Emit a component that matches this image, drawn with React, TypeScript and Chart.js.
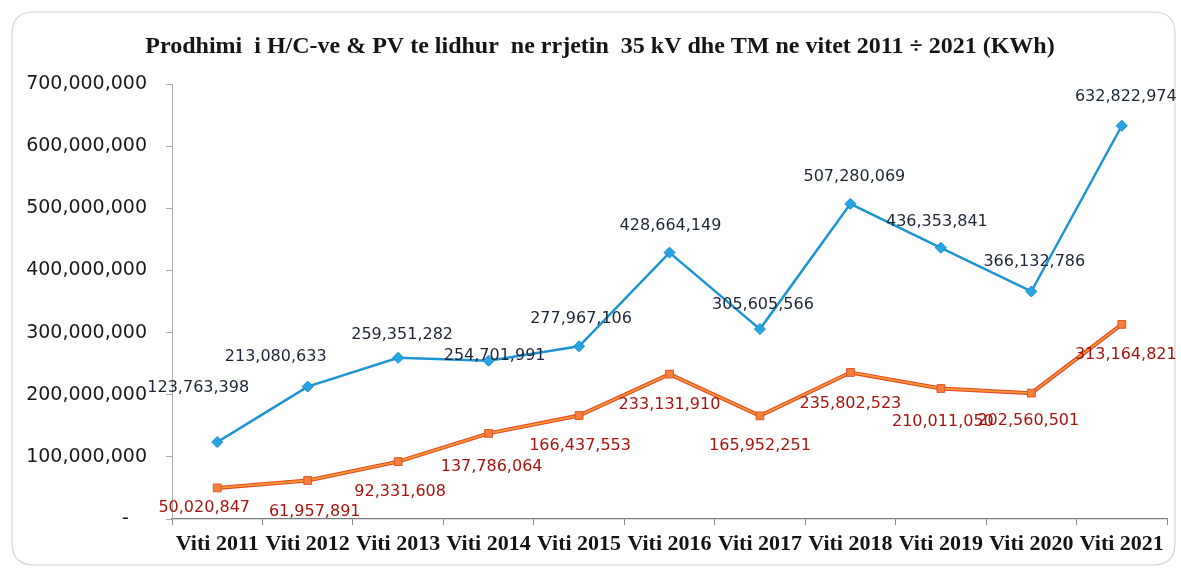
import React, { useEffect, useRef } from "react";
import { Chart, registerables } from "chart.js";

Chart.register(...registerables);

const chartTitle =
  "Prodhimi  i H/C-ve & PV te lidhur  ne rrjetin  35 kV dhe TM ne vitet 2011 ÷ 2021 (KWh)";

const categories = [
  "Viti 2011",
  "Viti 2012",
  "Viti 2013",
  "Viti 2014",
  "Viti 2015",
  "Viti 2016",
  "Viti 2017",
  "Viti 2018",
  "Viti 2019",
  "Viti 2020",
  "Viti 2021",
];

// Blue series
const productionTotal = [
  123763398, 213080633, 259351282, 254701991, 277967106, 428664149, 305605566,
  507280069, 436353841, 366132786, 632822974,
];

// Orange series
const productionConnected = [
  50020847, 61957891, 92331608, 137786064, 166437553, 233131910, 165952251,
  235802523, 210011050, 202560501, 313164821,
];

const yTickValues = [0, 100000000, 200000000, 300000000, 400000000, 500000000, 600000000, 700000000];

// label offsets (style, relative to each point)
const blueLabelOffsets: [number, number][] = [
  [-19, -54], [-32, -30], [4, -23], [6, -5], [2, -27], [1, -27],
  [3, -24], [4, -27], [-4, -26], [3, -30], [4, -29],
];
const orangeLabelOffsets: [number, number][] = [
  [-13, 20], [7, 31], [2, 30], [3, 33], [1, 30], [0, 31],
  [0, 30], [0, 31], [2, 33], [-3, 28], [4, 30],
];

const W = 1181;
const H = 571;

const fmt = (v: number) => v.toLocaleString("en-US");

const framePlugin = {
  id: "frame",
  beforeDraw(chart: any) {
    const ctx = chart.ctx;
    ctx.save();
    ctx.fillStyle = "#ffffff";
    ctx.fillRect(0, 0, chart.width, chart.height);
    const x = 12, y = 12, w = 1163, h = 553, r = 22;
    ctx.beginPath();
    ctx.moveTo(x + r, y);
    ctx.lineTo(x + w - r, y);
    ctx.quadraticCurveTo(x + w, y, x + w, y + r);
    ctx.lineTo(x + w, y + h - r);
    ctx.quadraticCurveTo(x + w, y + h, x + w - r, y + h);
    ctx.lineTo(x + r, y + h);
    ctx.quadraticCurveTo(x, y + h, x, y + h - r);
    ctx.lineTo(x, y + r);
    ctx.quadraticCurveTo(x, y, x + r, y);
    ctx.closePath();
    ctx.strokeStyle = "#d4d4d4";
    ctx.lineWidth = 1.2;
    ctx.stroke();

    ctx.fillStyle = "#151515";
    ctx.font = "bold 24px 'Liberation Serif', 'Times New Roman', serif";
    ctx.textAlign = "center";
    ctx.textBaseline = "middle";
    ctx.fillText(chartTitle, 600, 47);
    ctx.restore();
  },
};

const labelPlugin = {
  id: "pointLabels",
  afterDatasetsDraw(chart: any) {
    const ctx = chart.ctx;
    ctx.save();
    ctx.font = "16px 'DejaVu Sans', sans-serif";
    ctx.textAlign = "center";
    ctx.textBaseline = "middle";
    chart.data.datasets.forEach((ds: any, di: number) => {
      if (!ds.labelOffsets) return;
      const meta = chart.getDatasetMeta(di);
      meta.data.forEach((pt: any, i: number) => {
        const [dx, dy] = ds.labelOffsets[i];
        ctx.fillStyle = ds.labelColor;
        ctx.fillText(fmt(ds.data[i]), pt.x + dx, pt.y + dy);
      });
    });
    ctx.restore();
  },
};

export default function App() {
  const ref = useRef<HTMLCanvasElement | null>(null);

  useEffect(() => {
    if (!ref.current) return;
    const chart = new Chart(ref.current, {
      type: "line",
      data: {
        labels: categories,
        datasets: [
          {
            label: "Total",
            data: productionTotal,
            borderColor: "#1b95d3",
            borderWidth: 2.5,
            backgroundColor: "#22a3e0",
            pointStyle: "rectRot",
            pointRadius: 5.5,
            pointBorderColor: "#1a8cc8",
            pointBackgroundColor: "#25a5e2",
            pointBorderWidth: 1,
            tension: 0,
            order: 0,
            labelOffsets: blueLabelOffsets,
            labelColor: "#1c2636",
          } as any,
          {
            label: "Connected",
            data: productionConnected,
            borderColor: "#f59a2e",
            borderWidth: 1.8,
            backgroundColor: "#f47d3c",
            pointStyle: "rect",
            pointRadius: 5.5,
            pointBorderColor: "#e0552a",
            pointBackgroundColor: "#f5803a",
            pointBorderWidth: 1,
            tension: 0,
            order: 1,
            labelOffsets: orangeLabelOffsets,
            labelColor: "#a8150f",
          } as any,
          {
            label: "Connected outline",
            data: productionConnected,
            borderColor: "#e5452a",
            borderWidth: 4,
            pointRadius: 0,
            tension: 0,
            order: 2,
          } as any,
        ],
      },
      options: {
        responsive: false,
        animation: false,
        events: [],
        layout: { padding: { left: 0, right: 14, top: 84, bottom: 0 } },
        plugins: {
          legend: { display: false },
          title: { display: false },
          tooltip: { enabled: false },
        },
        scales: {
          x: {
            type: "category",
            offset: true,
            grid: {
              offset: true,
              drawOnChartArea: false,
              drawTicks: true,
              tickLength: 6,
              color: "#8a8a8a",
            },
            border: { display: true, color: "#7a7a7a", width: 1.2 },
            ticks: {
              autoSkip: false,
              maxRotation: 0,
              minRotation: 0,
              padding: 6,
              color: "#141414",
              font: { family: "'Liberation Serif', 'Times New Roman', serif", size: 22, weight: "bold" },
            },
            afterFit(scale: any) {
              scale.height = 52;
            },
          },
          y: {
            min: 0,
            max: 700000000,
            grid: {
              drawOnChartArea: false,
              drawTicks: true,
              tickLength: 6,
              color: "#a8a8a8",
            },
            border: { display: true, color: "#a8a8a8", width: 1 },
            afterBuildTicks(scale: any) {
              scale.ticks = yTickValues.map((v) => ({ value: v }));
            },
            ticks: {
              padding: 19,
              color: "#1a1a1a",
              font: { family: "'DejaVu Sans', sans-serif", size: 19 },
              callback: (v: any) => (Number(v) === 0 ? "-   " : fmt(Number(v))),
            },
            afterFit(scale: any) {
              scale.width = 172;
            },
          },
        },
      },
      plugins: [framePlugin, labelPlugin],
    } as any);
    return () => chart.destroy();
  }, []);

  return (
    <div style={{ position: "absolute", left: 0, top: 0, width: W, height: H }}>
      <canvas ref={ref} width={W} height={H} style={{ width: W, height: H, display: "block" }} />
    </div>
  );
}
